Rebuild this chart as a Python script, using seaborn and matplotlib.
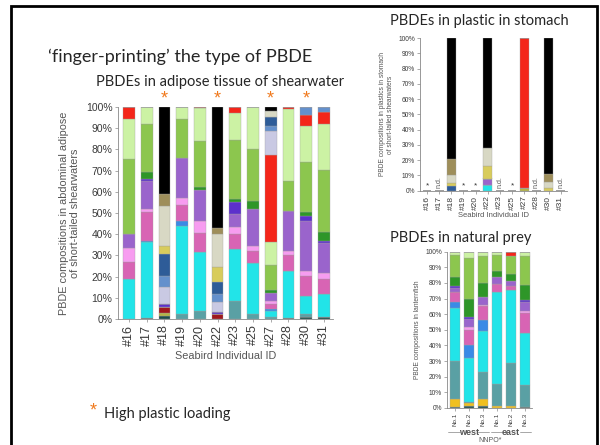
import numpy as np
import pandas as pd
import matplotlib
matplotlib.use("Agg")
import matplotlib.pyplot as plt
from matplotlib.patches import Rectangle
import seaborn as sns

sns.set_style("ticks")
plt.rcParams["font.family"] = ["Liberation Sans", "DejaVu Sans"]

# congeners, bottom of the stack first (names only used as hue keys)
CONGENERS = ["dkteal", "ygreen", "dkred", "yellow", "teal", "cyan", "blue", "pink", "ltpink",
             "purple", "dkpurple", "dkgreen", "green", "ltgreen", "red", "lavender", "steel",
             "navy", "yellow2", "beige", "olive", "black"]
COLORS = ["#1e4f4a", "#b4b444", "#a0181c", "#f0c020", "#5aa0a4", "#22e4e8", "#3a8ae6", "#d864b4",
          "#f79cf0", "#9a64cc", "#5c30cc", "#2e9628", "#8cc64e", "#ccf2a4", "#f4261a", "#c9c9e3",
          "#6490cc", "#2e5c98", "#d8cc5c", "#d8d8c4", "#9e8e5a", "#000000"]
PALETTE = dict(zip(CONGENERS, COLORS))

# adipose tissue, % of each congener per bird
BIRD_IDS = ["#16", "#17", "#18", "#19", "#20", "#22", "#23", "#25", "#27", "#28", "#30", "#31"]
HIGH_PLASTIC = ["#18", "#22", "#27", "#30"]
ADIPOSE = [
    {"cyan": 19, "pink": 8, "ltpink": 6.5, "purple": 6.5, "green": 35.5, "ltgreen": 19, "red": 5.5},
    {"dkteal": 0.5, "cyan": 36, "blue": 0.5, "pink": 13.5, "ltpink": 1.5, "purple": 13, "dkpurple": 1,
     "dkgreen": 3.5, "green": 22.5, "ltgreen": 8},
    {"dkteal": 1.5, "ygreen": 1.5, "dkred": 2.5, "dkpurple": 1.5, "lavender": 8, "steel": 5.5,
     "navy": 10, "yellow2": 4, "beige": 19, "olive": 5.5, "black": 41},
    {"teal": 2.5, "cyan": 41.5, "blue": 2, "pink": 8, "ltpink": 3, "purple": 19, "green": 18.5, "ltgreen": 5.5},
    {"teal": 4, "cyan": 27.5, "pink": 9, "ltpink": 5.5, "purple": 15, "dkgreen": 1.5, "green": 21.5,
     "ltgreen": 15.5, "red": 0.5},
    {"dkred": 2.5, "dkpurple": 1, "lavender": 4.5, "steel": 4, "navy": 5.5, "yellow2": 7, "beige": 15.5,
     "olive": 3, "black": 57},
    {"teal": 8.5, "cyan": 24.5, "pink": 7, "ltpink": 3.5, "purple": 6, "dkpurple": 5.5, "dkgreen": 1.5,
     "green": 28, "ltgreen": 12.5, "red": 3},
    {"teal": 2.5, "cyan": 24, "pink": 5.5, "ltpink": 2.5, "purple": 17.5, "dkgreen": 3.5, "green": 24.5,
     "ltgreen": 20},
    {"teal": 1, "cyan": 3, "blue": 0.5, "pink": 2.5, "ltpink": 1.5, "purple": 4, "dkgreen": 1, "green": 12,
     "ltgreen": 11, "red": 41, "lavender": 11, "steel": 2.5, "navy": 4.5, "beige": 2.5, "black": 2},
    {"dkteal": 0.5, "cyan": 22, "pink": 7.5, "ltpink": 2, "purple": 19, "green": 14, "ltgreen": 34, "red": 1},
    {"dkteal": 1, "teal": 1.5, "cyan": 8.5, "pink": 9.5, "ltpink": 2, "purple": 23.5, "dkpurple": 2.5,
     "dkgreen": 2, "green": 23.5, "ltgreen": 17, "red": 5, "steel": 4},
    {"dkteal": 1, "cyan": 11, "pink": 7, "ltpink": 2.5, "purple": 14.5, "dkpurple": 1, "dkgreen": 4,
     "green": 29.5, "ltgreen": 21.5, "red": 5.5, "steel": 2.5},
]

# plastic found in the stomach, same birds
STOMACH = {
    "#18": {"navy": 3, "yellow2": 2, "beige": 5, "olive": 11, "black": 79},
    "#22": {"cyan": 4, "purple": 4, "yellow2": 8, "beige": 12, "black": 72},
    "#27": {"ygreen": 1.5, "red": 98.5},
    "#30": {"yellow2": 1.5, "beige": 4, "olive": 5.5, "black": 89},
}
STOMACH_NOTES = {"#16": "*", "#17": "n.d.", "#19": "*", "#20": "*", "#23": "n.d.",
                 "#25": "*", "#28": "n.d.", "#31": "n.d."}

# lanternfish (natural prey)
PREY_IDS = ["No.1", "No.2", "No.3", "No.1", "No.2", "No.3"]
PREY_REGION = ["west", "west", "west", "east", "east", "east"]
PREY = [
    {"dkteal": 0.5, "yellow": 5, "teal": 24.5, "cyan": 34, "blue": 3.5, "pink": 7, "purple": 2.5,
     "dkpurple": 1, "dkgreen": 6, "green": 14, "ltgreen": 1.5, "red": 0.5},
    {"dkteal": 1.5, "yellow": 1.5, "teal": 1, "cyan": 28, "blue": 8, "pink": 10, "ltpink": 2, "purple": 5,
     "dkpurple": 1, "dkgreen": 12, "green": 26, "ltgreen": 4},
    {"dkteal": 1, "yellow": 5, "teal": 17, "cyan": 26.5, "blue": 6.5, "pink": 9, "ltpink": 1, "purple": 5,
     "dkgreen": 9, "green": 17, "ltgreen": 3},
    {"yellow": 1, "teal": 14.5, "cyan": 59, "pink": 5, "purple": 4.5, "dkgreen": 3.5, "green": 10.5, "ltgreen": 2},
    {"yellow": 1.5, "teal": 27.5, "cyan": 46.5, "pink": 2.5, "purple": 3, "dkgreen": 4.5, "green": 12, "red": 2.5},
    {"dkteal": 0.5, "teal": 14, "cyan": 33.5, "pink": 13, "ltpink": 1, "purple": 6, "dkpurple": 1,
     "dkgreen": 9.5, "green": 19, "ltgreen": 2.5},
]

ORANGE = "#f07a1e"
GREY = "#555555"


def stacked(ax, segs, shrink):
    rows = [(i, c, s.get(c, 0)) for i, s in enumerate(segs) for c in CONGENERS]
    d = pd.DataFrame(rows, columns=["pos", "congener", "pct"])
    # seaborn puts the first hue level on top, so hand it the order reversed
    sns.histplot(d, x="pos", weights="pct", hue="congener", hue_order=CONGENERS[::-1], palette=PALETTE,
                 multiple="stack", discrete=True, shrink=shrink, alpha=1, edgecolor="#a0a0a0",
                 linewidth=0.25, legend=False, ax=ax)


def style(ax, labels, n, fs_y, fs_x, pad):
    ax.set_ylim(0, 100)
    ax.set_yticks(np.arange(0, 101, 10))
    ax.set_yticklabels([f"{v}%" for v in range(0, 101, 10)], fontsize=fs_y, color="#3a3a3a")
    ax.set_xticks(range(n))
    ax.set_xticklabels(labels, rotation=90, fontsize=fs_x, color="#3a3a3a")
    ax.tick_params(length=2, width=0.5, color="#888", pad=pad)
    sns.despine(ax=ax)
    for sp in ("left", "bottom"):
        ax.spines[sp].set_color("#888")
        ax.spines[sp].set_linewidth(0.6)


fig = plt.figure(figsize=(6.0, 4.45), dpi=100)

# slide frame
fig.patches.append(Rectangle((0.0183, -0.05), 0.9767, 1.0365, transform=fig.transFigure,
                             fill=False, lw=2, edgecolor="black"))

slide_font = ["Lato", "DejaVu Sans"]
fig.text(48 / 600, 1 - 57 / 445, "\u2018finger-printing\u2019 the type of PBDE", fontsize=13,
         family=slide_font, va="center", ha="left")
fig.text(220 / 600, 1 - 82 / 445, "PBDEs in adipose tissue of shearwater", fontsize=10.5,
         family=slide_font, va="center", ha="center")
fig.text(479 / 600, 1 - 21 / 445, "PBDEs in plastic in stomach", fontsize=10.5,
         family=slide_font, va="center", ha="center")
fig.text(461 / 600, 1 - 238 / 445, "PBDEs in natural prey", fontsize=10.5,
         family=slide_font, va="center", ha="center")
fig.text(90 / 600, 1 - 411 / 445, "*", fontsize=13, color=ORANGE, va="center", ha="left")
fig.text(104 / 600, 1 - 414 / 445, "High plastic loading", fontsize=10.5,
         family=slide_font, va="center", ha="left")

# adipose tissue
ax1 = fig.add_axes([118 / 600, 1 - 319 / 445, 215 / 600, 212 / 445])
stacked(ax1, ADIPOSE, 0.66)
style(ax1, BIRD_IDS, len(BIRD_IDS), 7.5, 9, 2)
ax1.set_xlim(-0.62, 11.52)
ax1.set_xlabel("Seabird Individual ID", fontsize=7.8, color=GREY, labelpad=4)
ax1.set_ylabel("PBDE compositions in abdominal adipose\nof short-tailed shearwaters", fontsize=7.8,
               color=GREY, labelpad=4)
for b in HIGH_PLASTIC:
    ax1.text(BIRD_IDS.index(b), 104, "*", color=ORANGE, fontsize=13, ha="center", va="center",
             clip_on=False)

# stomach plastics
ax2 = fig.add_axes([420 / 600, 1 - 190.7 / 445, 147 / 600, 152.5 / 445])
stacked(ax2, [STOMACH.get(b, {}) for b in BIRD_IDS], 0.72)
style(ax2, BIRD_IDS, len(BIRD_IDS), 4.8, 6, 1.5)
ax2.set_xlim(-0.58, 11.52)
ax2.set_xlabel("Seabird Individual ID", fontsize=5.5, color=GREY, labelpad=2)
ax2.set_ylabel("PBDE compositions in plastics in stomach\nof short-tailed shearwaters", fontsize=4.8,
               color=GREY, labelpad=3)
for b, note in STOMACH_NOTES.items():
    if note == "*":
        ax2.text(BIRD_IDS.index(b), 3, "*", fontsize=6, ha="center", va="center", color="#333")
    else:
        ax2.text(BIRD_IDS.index(b), 2, note, fontsize=5, rotation=90, ha="center", va="bottom",
                 color=GREY)

# lanternfish
ax3 = fig.add_axes([447 / 600, 1 - 408 / 445, 85 / 600, 156.3 / 445])
stacked(ax3, PREY, 0.7)
style(ax3, PREY_IDS, len(PREY_IDS), 4.8, 4.5, 1.5)
ax3.set_xlim(-0.55, 5.5)
ax3.set_xlabel("")
ax3.set_ylabel("PBDE compositions in lanternfish", fontsize=4.8, color=GREY, labelpad=3)
tr = ax3.get_xaxis_transform()
for reg in ["west", "east"]:
    idx = [i for i, r in enumerate(PREY_REGION) if r == reg]
    mid = np.mean(idx)
    ax3.text(mid, -0.155, reg, transform=tr, fontsize=6.5, ha="center", va="center", color=GREY,
             fontweight="bold")
    ax3.plot([idx[0] - 0.45, mid - 0.65], [-0.155, -0.155], transform=tr, color="#999", lw=0.6,
             clip_on=False)
    ax3.plot([mid + 0.65, idx[-1] + 0.45], [-0.155, -0.155], transform=tr, color="#999", lw=0.6,
             clip_on=False)
ax3.text(2.5, -0.21, "NNPO*", transform=tr, fontsize=5, ha="center", va="center", color=GREY)

fig.savefig("out.png", dpi=100)
